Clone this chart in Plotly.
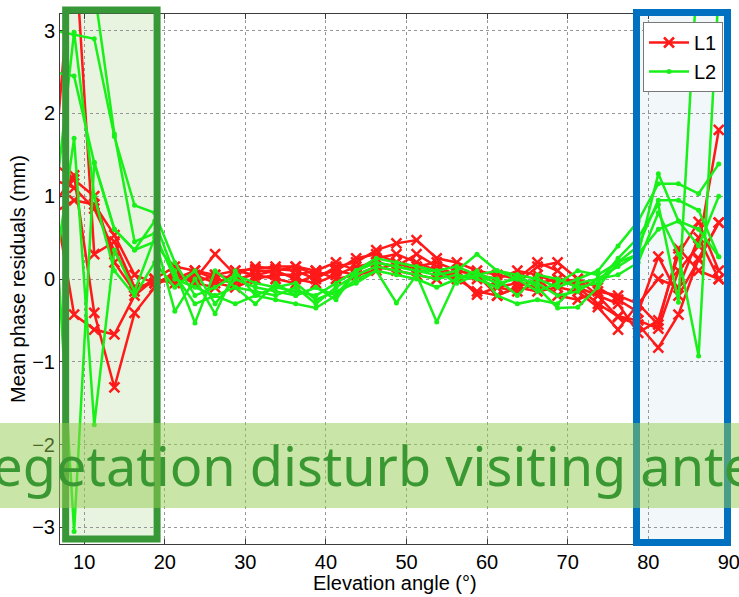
import plotly.graph_objects as go

# Elevation bin centres (degrees)
elev = [6.25, 8.75, 11.25, 13.75, 16.25, 18.75, 21.25, 23.75, 26.25, 28.75,
        31.25, 33.75, 36.25, 38.75, 41.25, 43.75, 46.25, 48.75, 51.25, 53.75,
        56.25, 58.75, 61.25, 63.75, 66.25, 68.75, 71.25, 73.75, 76.25, 78.75,
        81.25, 83.75, 86.25, 88.75]

# L1 mean phase residuals (mm), one list per session
L1_a = [1.3, 4.2, 0.3, 0.45, -0.1, -0.05, 0.05, 0.0, 0.3, 0.05, 0.15, 0.12, 0.1, 0.0, 0.15, 0.2, 0.35, 0.43,
        0.47, 0.25, 0.2, 0.1, 0.05, 0.0, 0.2, 0.1, -0.1, -0.3, -0.45, -0.5, -0.6, 0.1, 0.4, 1.8]
L1_b = [0.9, 1.25, -0.41, -1.31, -0.41, -0.1, 0.1, -0.05, -0.1, 0.1, 0.12, 0.15, 0.15, 0.05, 0.1, 0.25, 0.3, 0.2,
        0.1, 0.1, 0.05, -0.19, -0.1, -0.05, 0.15, 0.2, 0.0, -0.2, -0.46, -0.55, -0.83, -0.43, 0.25, 0.68]
L1_c = [1.0, -0.43, -0.61, -0.67, -0.2, 0.0, -0.05, 0.05, -0.05, -0.1, 0.0, 0.05, 0.05, 0.1, 0.2, 0.1, 0.25, 0.3,
        0.2, 0.1, 0.0, -0.15, -0.2, -0.1, -0.15, -0.1, -0.15, -0.34, -0.61, -0.3, -0.55, 0.37, 0.1, 0.0]
L1_d = [1.2, 1.1, 0.85, 0.34, -0.1, -0.05, 0.0, 0.1, 0.0, -0.05, 0.1, 0.1, 0.0, -0.05, 0.05, 0.15, 0.2, 0.15,
        0.3, 0.15, 0.05, 0.0, -0.1, -0.15, -0.05, 0.0, -0.1, -0.2, -0.3, -0.65, -0.5, 0.3, 0.69, 0.1]
L1_e = [0.8, 0.95, 0.9, 0.53, 0.05, -0.05, 0.05, -0.05, 0.05, 0.0, 0.05, 0.0, -0.05, 0.05, 0.1, 0.05, 0.15, 0.1,
        0.05, 0.0, 0.1, 0.05, 0.0, 0.1, 0.05, -0.05, 0.0, -0.1, -0.25, -0.4, 0.27, -0.2, 0.23, 0.68]
L1_f = [1.4, 1.2, 1.0, 0.2, -0.15, 0.0, 0.15, 0.1, 0.05, 0.1, 0.05, 0.1, 0.15, 0.1, 0.0, 0.05, 0.1, 0.2,
        0.15, 0.2, 0.1, 0.05, -0.2, -0.1, 0.0, -0.2, -0.25, -0.15, -0.2, -0.3, 0.0, -0.1, 0.5, 0.0]

# L2 mean phase residuals (mm)
L2_a = [3.0, 2.95, 2.9, 1.72, 0.89, 0.8, 0.2, -0.2, -0.1, 0.05, -0.05, -0.1, -0.15, -0.2, -0.05, 0.1, 0.2, 0.15,
        0.1, 0.05, 0.1, 0.3, 0.1, 0.05, 0.0, -0.1, 0.0, 0.1, 0.4, 0.7, 1.15, 1.15, 1.03, 1.39]
L2_b = [4.2, 3.9, 3.5, 1.75, 0.45, 0.55, 0.0, -0.1, -0.2, -0.1, -0.15, -0.2, -0.1, -0.3, -0.1, 0.05, 0.15, 0.1,
        0.05, 0.0, 0.05, 0.0, -0.1, 0.05, -0.1, -0.35, -0.34, -0.1, 0.2, 0.4, 0.95, 0.95, 0.83, 0.27]
L2_c = [0.0, 1.7, -1.76, 0.35, -0.15, 0.5, -0.39, 0.0, -0.42, 0.1, -0.2, -0.1, -0.05, -0.25, -0.15, -0.05, 0.1, -0.29,
        0.05, -0.52, 0.0, 0.05, -0.05, 0.0, -0.05, -0.2, -0.15, 0.0, 0.15, 0.3, 0.6, 0.7, 0.4, 1.0]
L2_d = [1.0, -3.05, 1.41, 0.6, 0.35, 0.45, 0.1, -0.53, 0.1, -0.1, -0.3, -0.05, -0.2, -0.1, -0.2, 0.1, 0.2, 0.15,
        0.1, 0.1, 0.15, 0.05, 0.0, -0.2, 0.05, 0.0, -0.1, -0.05, 0.25, 0.5, 0.9, -0.28, 4.0, 4.5]
L2_e = [2.5, 2.45, 1.4, 0.6, 0.35, 0.7, 0.05, -0.3, -0.2, -0.3, -0.2, -0.25, -0.3, -0.35, -0.2, 0.0, 0.1, 0.05,
        0.0, -0.1, 0.0, 0.1, -0.2, -0.3, -0.25, -0.3, -0.05, 0.0, 0.05, 0.2, 0.8, 0.3, -0.93, 3.5]
L2_f = [0.8, 2.98, 1.0, 0.1, -0.2, 0.2, -0.1, 0.1, -0.3, 0.0, -0.1, -0.15, -0.2, -0.1, -0.25, 0.1, 0.25, 0.2,
        0.15, 0.1, -0.05, 0.05, 0.1, 0.0, -0.15, -0.05, 0.1, 0.05, 0.2, 0.3, 1.27, 0.7, 0.6, 0.27]

L1_series = [L1_a, L1_b, L1_c, L1_d, L1_e, L1_f]
L2_series = [L2_a, L2_b, L2_c, L2_d, L2_e, L2_f]

x_ticks = [10, 20, 30, 40, 50, 60, 70, 80, 90]
y_ticks = [-3, -2, -1, 0, 1, 2, 3]
x_range = [7, 90.02]
y_range = [-3.2, 3.2]

RED = "rgb(255,25,25)"
GREEN = "rgb(25,240,25)"

fig = go.Figure()
for i, s in enumerate(L1_series):
    fig.add_trace(go.Scatter(
        x=elev, y=s, mode="lines+markers", name="L1", legendgroup="L1",
        showlegend=(i == 0),
        line=dict(color=RED, width=2.5),
        marker=dict(symbol="x-thin", size=10, color=RED, line=dict(color=RED, width=2.5)),
    ))
for i, s in enumerate(L2_series):
    fig.add_trace(go.Scatter(
        x=elev, y=s, mode="lines+markers", name="L2", legendgroup="L2",
        showlegend=(i == 0),
        line=dict(color=GREEN, width=2.5),
        marker=dict(symbol="circle", size=5, color=GREEN),
    ))

# layout geometry (pixels)
W, H = 739, 597
ML, MR, MT, MB = 60, 10, 14, 53
PW = W - ML - MR
PH = H - MT - MB


def px_x(p):
    return (p - ML) / PW


def px_y(p):
    return (H - MB - p) / PH


def dx(v):
    return (v - x_range[0]) / (x_range[1] - x_range[0])


shapes = []
# green highlight box (low elevations)
shapes.append(dict(type="rect", xref="paper", yref="paper", layer="below",
                   x0=dx(7.7), x1=dx(19.05), y0=px_y(539), y1=px_y(10),
                   fillcolor="rgb(232,243,224)", line=dict(width=0)))
shapes.append(dict(type="rect", xref="paper", yref="paper", layer="above",
                   x0=dx(7.7), x1=dx(19.05), y0=px_y(539), y1=px_y(10),
                   fillcolor="rgba(0,0,0,0)", line=dict(color="rgb(56,152,56)", width=7)))
# blue highlight box (high elevations)
shapes.append(dict(type="rect", xref="paper", yref="paper", layer="below",
                   x0=px_x(636.5), x1=px_x(727.5), y0=px_y(542.5), y1=px_y(12.5),
                   fillcolor="rgb(242,248,250)", line=dict(width=0)))
shapes.append(dict(type="rect", xref="paper", yref="paper", layer="above",
                   x0=px_x(636.5), x1=px_x(727.5), y0=px_y(542.5), y1=px_y(12.5),
                   fillcolor="rgba(0,0,0,0)", line=dict(color="rgb(0,112,192)", width=7)))
# banner
shapes.append(dict(type="rect", xref="paper", yref="paper", layer="above",
                   x0=px_x(-5), x1=px_x(745), y0=px_y(508), y1=px_y(423),
                   fillcolor="rgba(148,203,79,0.5)", line=dict(width=0)))

annotations = [
    dict(text="Vegetation disturb visiting antenna", xref="paper", yref="paper",
         x=px_x(-41), y=px_y(465), xanchor="left", yanchor="middle", showarrow=False,
         font=dict(family="Noto Sans", size=54, color="rgb(58,152,50)")),
    dict(text="Elevation angle (\u00b0)", xref="paper", yref="paper",
         x=0.5, y=px_y(583), xanchor="center", yanchor="middle", showarrow=False,
         font=dict(family="Liberation Sans, Arial", size=20, color="black")),
    dict(text="Mean phase residuals (mm)", xref="paper", yref="paper",
         x=px_x(18), y=0.5, xanchor="center", yanchor="middle", showarrow=False,
         textangle=-90,
         font=dict(family="Liberation Sans, Arial", size=20, color="black")),
]

axis_common = dict(
    showgrid=True, gridcolor="rgb(150,150,150)", griddash="dot", gridwidth=1,
    showline=True, linecolor="rgb(60,60,60)", linewidth=1, mirror="allticks",
    ticks="inside", ticklen=5, tickcolor="rgb(60,60,60)",
    zeroline=False, ticklabeloverflow="allow", automargin=False,
    tickfont=dict(family="Liberation Sans, Arial", size=20, color="black"),
)

fig.update_layout(
    width=W, height=H,
    margin=dict(l=ML, r=MR, t=MT, b=MB, pad=0, autoexpand=False),
    paper_bgcolor="white", plot_bgcolor="white",
    xaxis=dict(range=x_range, tickvals=x_ticks, **axis_common),
    yaxis=dict(range=y_range, tickvals=y_ticks, **axis_common),
    shapes=shapes,
    annotations=annotations,
    showlegend=True,
    legend=dict(x=px_x(723), y=px_y(22), xanchor="right", yanchor="top",
                bgcolor="white", bordercolor="rgb(120,120,120)", borderwidth=1,
                font=dict(family="Liberation Sans, Arial", size=20, color="black"),
                itemwidth=40, tracegroupgap=0),
)

fig.write_html("out.html")
